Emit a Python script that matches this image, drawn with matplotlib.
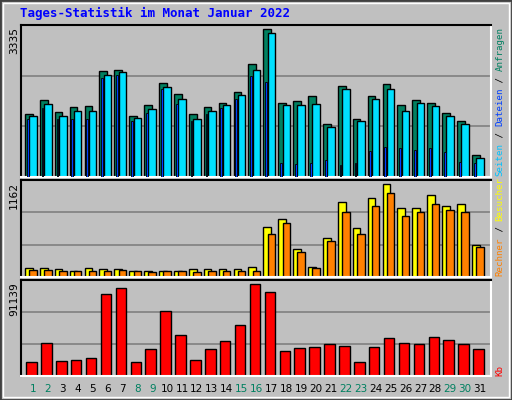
import matplotlib
matplotlib.use("Agg")
import matplotlib.pyplot as plt
import numpy as np
from matplotlib.patches import Rectangle

days = list(range(1, 32))
day_labels = [str(d) for d in days]
weekend = [1, 2, 8, 9, 15, 16, 22, 23, 29, 30]

anfragen = [1411,1728,1456,1569,1592,2384,2407,1388,1615,2113,1864,1411,1569,1660,1909,2543,3335,
            1660,1705,1818,1207,2045,1320,1818,2090,1615,1728,1660,1434,1275,506]
dateien = [1366,1637,1366,1479,1501,2294,2362,1343,1524,2022,1751,1298,1479,1615,1841,2407,3244,
           1615,1615,1637,1139,1977,1275,1751,1977,1479,1660,1592,1366,1207,438]
seiten = [1298,1547,1320,1298,1298,2226,2294,1275,1434,1977,1637,1275,1411,1547,1751,2271,2135,
          324,302,324,392,279,324,596,687,664,619,664,573,347,324]
besucher = [109,109,96,79,109,96,96,79,79,79,79,96,96,96,96,121,619,
            731,347,130,493,932,607,982,1162,857,869,1020,894,907,405]
rechner = [92,92,79,79,79,79,92,79,67,79,79,67,79,79,79,79,543,
           669,318,117,456,807,543,882,1045,769,819,919,832,807,380]
kb = [14303,32265,15301,16299,18294,81161,87148,14303,26278,64198,40248,16299,26278,34261,50227,91139,83157,
      24282,27276,28274,31267,29271,14303,28274,37255,32265,31267,38252,35259,31267,26278]

W, H = 512, 400
BG = '#c0c0c0'
fig = plt.figure(figsize=(W/100, H/100), dpi=100, facecolor=BG)
fig.patches.append(Rectangle((0, 0), 1, 1, transform=fig.transFigure, fill=False,
                             edgecolor='#404040', linewidth=2))
fig.patches.append(Rectangle((3/W, 3/H), 1-6/W, 1-6/H, transform=fig.transFigure, fill=False,
                             edgecolor='white', linewidth=1))

def ax_at(x0, y0, x1, y1):
    return fig.add_axes([x0/W, 1-y1/H, (x1-x0)/W, (y1-y0)/H])

x = np.array(days)
mono = 'DejaVu Sans Mono'
def style(ax, ymax):
    ax.set_facecolor(BG)
    ax.set_xlim(0.195, 31.74)
    ax.set_ylim(0, ymax)
    for g in (ymax/3, 2*ymax/3):
        ax.axhline(g, color='#808080', lw=1.2, zorder=0)
    ax.set_xticks([]); ax.set_yticks([])
    for s in ['left', 'top']:
        ax.spines[s].set_color('black'); ax.spines[s].set_linewidth(1.5)
    for s in ['right', 'bottom']:
        ax.spines[s].set_color('white'); ax.spines[s].set_linewidth(1.5)

kw = dict(edgecolor='black', linewidth=1, zorder=2)
a1 = ax_at(21, 25, 491, 177)
style(a1, 3335/0.972)
a1.bar(x-0.28, anfragen, 0.52, color='#008060', **kw)
a1.bar(x-0.36, seiten, 0.12, color='#0040ff', edgecolor='black', linewidth=0.6, zorder=3)
a1.bar(x, dateien, 0.5, color='#00e0ff', **kw)

a2 = ax_at(21, 180, 491, 277)
style(a2, 1162/0.958)
a2.bar(x-0.28, besucher, 0.52, color='#ffff00', **kw)
a2.bar(x, rechner, 0.5, color='#ff8000', **kw)

a3 = ax_at(21, 280, 491, 376)
style(a3, 91139/0.958)
a3.bar(x-0.1, kb, 0.7, color='#ff0000', **kw)

fig.text(20/W, 1-13/H, 'Tages-Statistik im Monat Januar 2022', color='#0000ff',
         fontsize=9, fontweight='bold', family=mono, va='center', ha='left')

for ytop, txt in [(27, '3335'), (182, '1162'), (282, '91139')]:
    fig.text(14/W, 1-ytop/H, txt, rotation=90, fontsize=8, family=mono, color='black',
             ha='center', va='top')

for d in days:
    xp = (33 + (d-1)*14.9)/W
    fig.text(xp, 1-389/H, day_labels[d-1], fontsize=7.5, family='DejaVu Sans',
             color='#008060' if d in weekend else 'black', ha='center', va='center')

FS = 6.6
ADV = FS * 0.602 * 100 / 72
def right_label(parts, ybottom):
    y = ybottom
    for txt, col in parts:
        fig.text(500/W, 1-y/H, txt, rotation=90, fontsize=FS, family=mono,
                 color=col, ha='center', va='bottom')
        y -= len(txt)*ADV

right_label([('Seiten', '#00c0ff'), (' / ', 'black'), ('Dateien', '#0040ff'),
             (' / ', 'black'), ('Anfragen', '#008060')], 176)
right_label([('Rechner', '#ff8000'), (' / ', 'black'), ('Besucher', '#ffff00')], 276)
right_label([('Kb', '#ff0000')], 376)

fig.savefig('out.png', dpi=100, facecolor=BG)
